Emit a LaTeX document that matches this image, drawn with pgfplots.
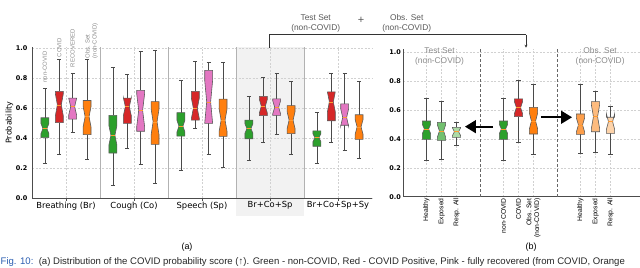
\documentclass[border=0pt]{standalone}
\usepackage{pgfplots}
\pgfplotsset{compat=1.18}
\usepackage{fontspec}
\setmainfont{DejaVu Sans}
\newfontfamily\arialf{Liberation Sans}
\usetikzlibrary{arrows.meta}

\definecolor{cg}{HTML}{2CA02C}
\definecolor{cr}{HTML}{D62728}
\definecolor{cp}{HTML}{E377C2}
\definecolor{co}{HTML}{FF7F0E}
\definecolor{cg2}{HTML}{72C06F}
\definecolor{cg3}{HTML}{ADDBA6}
\definecolor{co2}{HTML}{FD9E4A}
\definecolor{co3}{HTML}{FDBB7E}
\definecolor{co4}{HTML}{FDD3AA}
\definecolor{whisk}{HTML}{4A4A4A}
\definecolor{edge}{HTML}{5A5A5A}
\definecolor{med}{HTML}{FF9A30}
\definecolor{lab}{HTML}{8A8A8A}
\definecolor{figblue}{HTML}{2A5DB0}

% #1 x, #2 half width, #3 lower whisker, #4 q1, #5 median, #6 q3, #7 upper whisker, #8 fill, #9 notch factor
\newcommand{\nbox}[9]{%
  \pgfmathsetmacro\xl{#1-#2}%
  \pgfmathsetmacro\xr{#1+#2}%
  \pgfmathsetmacro\xnl{#1-0.5*#2}%
  \pgfmathsetmacro\xnr{#1+0.5*#2}%
  \pgfmathsetmacro\nlo{#5-#9*(#6-#4)}%
  \pgfmathsetmacro\nhi{#5+#9*(#6-#4)}%
  \edef\doit{%
    \noexpand\addplot[draw=whisk, line width=0.75pt, forget plot] coordinates {(#1,#3) (#1,#4)};
    \noexpand\addplot[draw=whisk, line width=0.75pt, forget plot] coordinates {(#1,#6) (#1,#7)};
    \noexpand\addplot[draw=whisk, line width=0.75pt, forget plot] coordinates {(\xnl,#3) (\xnr,#3)};
    \noexpand\addplot[draw=whisk, line width=0.75pt, forget plot] coordinates {(\xnl,#7) (\xnr,#7)};
    \noexpand\addplot[draw=edge, fill=#8, line width=0.6pt, forget plot] coordinates {(\xl,#4) (\xr,#4) (\xr,\nlo) (\xnr,#5) (\xr,\nhi) (\xr,#6) (\xl,#6) (\xl,\nhi) (\xnl,#5) (\xl,\nlo)} -- cycle;
    \noexpand\addplot[draw=med, line width=0.6pt, forget plot] coordinates {(\xnl,#5) (\xnr,#5)};
  }\doit
}

\begin{document}
\begin{tikzpicture}[x=1bp,y=1bp]

% ---------------- left panel (a) ----------------
\begin{axis}[
  set layers,
  at={(32bp,69bp)}, anchor=south west,
  scale only axis, width=340bp, height=150.75bp,
  xmin=-0.5, xmax=4.5, ymin=0, ymax=1.005,
  clip=false,
  axis x line*=bottom, axis y line*=left,
  axis line style={black!70, line width=0.8pt},
  /pgf/number format/assume math mode=true,
  xtick={0,1,2,3,4},
  xticklabels={Breathing (Br),Cough (Co),Speech (Sp),Br+Co+Sp,Br+Co+Sp+Sy},
  xticklabel style={font=\fontsize{8.4}{9}\selectfont, inner sep=1bp},
  ytick={0,0.2,0.4,0.6,0.8,1.0},
  yticklabel style={font=\bfseries\fontsize{6.5}{7}\selectfont, /pgf/number format/fixed, /pgf/number format/fixed zerofill, /pgf/number format/precision=1, inner sep=2bp},
  tick align=outside, major tick length=2.5bp,
  xtick style={draw=black!70, line width=0.6pt},
  ytick style={draw=none},
  grid=major,
  major grid style={dash pattern=on 2bp off 1.5bp, black!18, line width=0.5pt},
  extra x ticks={0.5,1.5,2.5,3.5}, extra x tick labels={},
  extra x tick style={grid=major, major grid style={solid, black!30, line width=0.9pt}, major tick length=0pt},
  ylabel={Probability},
  ylabel style={font=\fontsize{8}{9}\selectfont, yshift=-3bp},
]
\begin{pgfonlayer}{axis background}
  \fill[black!5] (axis cs:2.5,-0.12) rectangle (axis cs:3.5,1.005);
\end{pgfonlayer}

% Breathing
\nbox{-0.31}{0.058}{0.230}{0.402}{0.463}{0.535}{0.734}{cg}{0.25}
\nbox{-0.098}{0.058}{0.293}{0.503}{0.621}{0.711}{0.921}{cr}{0.35}
\nbox{0.098}{0.058}{0.440}{0.526}{0.609}{0.666}{0.828}{cp}{0.4}
\nbox{0.31}{0.058}{0.260}{0.422}{0.542}{0.650}{0.926}{co}{0.3}
% Cough
\nbox{0.69}{0.058}{0.084}{0.300}{0.418}{0.551}{0.869}{cg}{0.25}
\nbox{0.902}{0.058}{0.334}{0.497}{0.609}{0.666}{0.824}{cr}{0.35}
\nbox{1.098}{0.058}{0.226}{0.445}{0.585}{0.718}{0.975}{cp}{0.4}
\nbox{1.31}{0.058}{0.095}{0.357}{0.508}{0.643}{0.982}{co}{0.3}
% Speech
\nbox{1.69}{0.058}{0.181}{0.413}{0.479}{0.569}{0.786}{cg}{0.25}
\nbox{1.902}{0.058}{0.463}{0.519}{0.598}{0.711}{0.914}{cr}{0.35}
\nbox{2.098}{0.058}{0.293}{0.497}{0.641}{0.851}{0.903}{cp}{0.4}
\nbox{2.31}{0.058}{0.203}{0.411}{0.519}{0.659}{0.907}{co}{0.3}
% Br+Co+Sp
\nbox{2.69}{0.058}{0.248}{0.395}{0.463}{0.519}{0.677}{cg}{0.25}
\nbox{2.902}{0.058}{0.372}{0.549}{0.612}{0.677}{0.806}{cr}{0.35}
\nbox{3.098}{0.058}{0.422}{0.551}{0.605}{0.661}{0.828}{cp}{0.4}
\nbox{3.31}{0.058}{0.289}{0.429}{0.519}{0.616}{0.779}{co}{0.3}
% Br+Co+Sp+Sy
\nbox{3.69}{0.058}{0.232}{0.345}{0.402}{0.447}{0.573}{cg}{0.25}
\nbox{3.902}{0.058}{0.372}{0.515}{0.641}{0.707}{0.828}{cr}{0.35}
\nbox{4.098}{0.058}{0.316}{0.485}{0.537}{0.628}{0.828}{cp}{0.4}
\nbox{4.31}{0.058}{0.266}{0.391}{0.474}{0.555}{0.779}{co}{0.3}

\begin{scope}[every node/.style={rotate=90, anchor=west, inner sep=0pt, text=lab, font=\arialf\fontsize{6}{7}\selectfont}]
  \node at (axis cs:-0.31,0.769) {non-COVID};
  \node at (axis cs:-0.098,0.938) {COVID};
  \node at (axis cs:0.098,0.872) {RECOVERED};
  \node[align=left] at (axis cs:0.375,0.931) {Obs. Set\\(non-COVID)};
\end{scope}
\end{axis}

% ---------------- right panel (b) ----------------
\begin{axis}[
  at={(403bp,70.3bp)}, anchor=south west,
  scale only axis, width=237bp, height=147.3bp,
  xmin=0, xmax=3.078, ymin=0, ymax=1.02,
  clip=false,
  axis x line*=bottom, axis y line*=left,
  axis line style={black!70, line width=0.8pt},
  /pgf/number format/assume math mode=true,
  xtick={0.305,0.5,0.695,1.305,1.5,1.695,2.305,2.5,2.695},
  xticklabels={Healthy,Exposed,Resp. All,non-COVID,COVID,{Obs. Set\\(non-COVID)},Healthy,Exposed,Resp. All},
  xticklabel style={rotate=90, anchor=east, align=right, inner sep=1.5bp, font=\arialf\fontsize{6.8}{7.6}\selectfont},
  ytick={0,0.2,0.4,0.6,0.8,1.0},
  yticklabel style={font=\bfseries\fontsize{6.5}{7}\selectfont, /pgf/number format/fixed, /pgf/number format/fixed zerofill, /pgf/number format/precision=1, inner sep=2bp},
  xtick style={draw=none}, ytick style={draw=none},
  grid=major,
  major grid style={dash pattern=on 2bp off 1.5bp, black!18, line width=0.5pt},
  extra x ticks={1,2}, extra x tick labels={},
  extra x tick style={grid=major, major grid style={dash pattern=on 3bp off 2bp, black!60, line width=0.7pt}},
]
\nbox{0.305}{0.054}{0.249}{0.397}{0.469}{0.524}{0.681}{cg}{0.25}
\nbox{0.5}{0.054}{0.259}{0.390}{0.455}{0.515}{0.658}{cg2}{0.35}
\nbox{0.695}{0.054}{0.353}{0.411}{0.450}{0.480}{0.515}{cg3}{0.4}
\nbox{1.305}{0.054}{0.249}{0.397}{0.469}{0.524}{0.681}{cg}{0.25}
\nbox{1.5}{0.054}{0.374}{0.554}{0.617}{0.677}{0.808}{cr}{0.35}
\nbox{1.695}{0.054}{0.296}{0.434}{0.524}{0.619}{0.778}{co}{0.3}
\nbox{2.305}{0.054}{0.300}{0.432}{0.497}{0.573}{0.778}{co2}{0.35}
\nbox{2.5}{0.054}{0.307}{0.450}{0.554}{0.658}{0.727}{co3}{0.4}
\nbox{2.695}{0.054}{0.293}{0.439}{0.520}{0.550}{0.624}{co4}{0.5}

\draw[line width=1.7bp, -{Triangle[length=11bp,width=13bp]}] (axis cs:1.169,0.485) -- (axis cs:0.805,0.485);
\draw[line width=1.7bp, -{Triangle[length=11bp,width=13bp]}] (axis cs:1.792,0.55) -- (axis cs:2.195,0.55);

\node[align=center, text=lab, font=\arialf\fontsize{8.4}{9.3}\selectfont] at (axis cs:0.475,0.972) {Test Set\\(non-COVID)};
\node[align=center, text=lab, font=\arialf\fontsize{8.4}{9.3}\selectfont] at (axis cs:2.56,0.972) {Obs. Set\\(non-COVID)};
\end{axis}

% ---------------- annotations ----------------
\node[align=center, text=black!65, font=\arialf\fontsize{8.4}{10.5}\selectfont] at (315.7,243.5) {Test Set\\(non-COVID)};
\node[text=black!65, font=\arialf\fontsize{11}{12}\selectfont] at (361,247) {+};
\node[align=center, text=black!65, font=\arialf\fontsize{8.4}{10.5}\selectfont] at (406.7,243.5) {Obs. Set\\(non-COVID)};
\draw[black!80, line width=0.8pt] (269,219.5) -- (269,232.3) -- (526,232.3);
\draw[black!80, line width=0.8pt, -{Stealth[length=3bp,width=3bp]}] (526,232.3) -- (526,219.3);

\node[font=\arialf\fontsize{9}{10}\selectfont] at (187,20) {(a)};
\node[font=\arialf\fontsize{9}{10}\selectfont] at (531,20) {(b)};

\node[anchor=base west, inner sep=0pt, font=\arialf\fontsize{9.6}{11}\selectfont, text=black!85] at (0.5,2.4) {\textcolor{figblue}{Fig. 10:}\ \ (a) Distribution of the COVID probability score (↑). Green - non-COVID, Red - COVID Positive, Pink - fully recovered (from COVID, Orange};

\pgfresetboundingbox
\useasboundingbox (0,0) rectangle (640,267);
\end{tikzpicture}
\end{document}
